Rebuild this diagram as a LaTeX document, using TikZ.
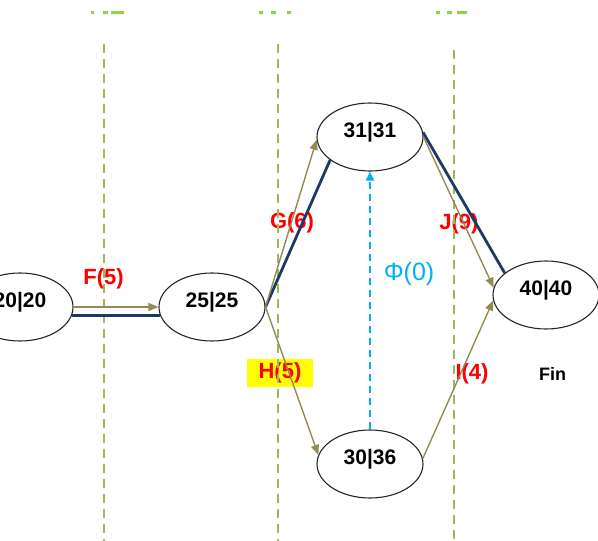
\documentclass[tikz,border=0pt]{standalone}
\usepackage{fontspec}
\setmainfont{Liberation Sans}
\usetikzlibrary{shapes.geometric,arrows.meta}

\definecolor{actolive}{RGB}{148,138,84}
\definecolor{critnavy}{RGB}{31,56,100}
\definecolor{guidegreen}{RGB}{155,187,89}
\definecolor{tickgreen}{RGB}{146,208,80}
\definecolor{dummycyan}{RGB}{0,176,240}
\definecolor{hilite}{RGB}{255,255,0}

\tikzset{
  event/.style={ellipse, draw=black!85, line width=1.1pt, fill=white,
    minimum width=106pt, minimum height=68pt, inner sep=0pt,
    font=\fontsize{21}{21}\selectfont\bfseries,
    text height=15pt, text depth=14pt},
  act/.style={draw=actolive, line width=1.4pt,
    -{Triangle[length=10pt,width=8pt]}},
  crit/.style={draw=critnavy, line width=2.8pt},
  dummyact/.style={draw=dummycyan, line width=2.4pt,
    dash pattern=on 7pt off 5pt,
    -{Triangle[length=9pt,width=8pt]}},
  guide/.style={draw=guidegreen, line width=1.6pt,
    dash pattern=on 9pt off 6pt},
  actlbl/.style={text=red, inner sep=0pt,
    font=\fontsize{22}{22}\selectfont\bfseries},
  dummylbl/.style={text=dummycyan, inner sep=0pt,
    font=\fontsize{25}{25}\selectfont},
  finlbl/.style={text=black, inner sep=0pt,
    font=\fontsize{18}{18}\selectfont\bfseries},
}

\begin{document}
\begin{tikzpicture}[x=1pt,y=-1pt]
\useasboundingbox (0,0) rectangle (598,541);
\clip (0,0) rectangle (598,541);

% activity labels (drawn first so the arrows pass over them)
\node[actlbl] (lF) at (103.5,279) {F(5)};
\node[actlbl] (lG) at (292,223) {G(6)};
\node[actlbl, fill=hilite, minimum width=66pt, minimum height=28pt]
  (lH) at (280,373) {H(5)};
\node[actlbl] (lJ) at (459,224) {J(9)};
\node[actlbl] (lI) at (472,374) {I(4)};
\node[dummylbl] (lPhi) at (409,274) {Φ(0)};
\node[finlbl] (lFin) at (552.5,374) {Fin};

% time guide lines
\coordinate (g1t) at (104,44);  \coordinate (g1b) at (104,541);
\coordinate (g2t) at (278,44);  \coordinate (g2b) at (278,541);
\coordinate (g3t) at (454,50);  \coordinate (g3b) at (454,541);
\draw[guide] (g1t) -- (g1b);
\draw[guide] (g2t) -- (g2b);
\draw[guide] (g3t) -- (g3b);

% bottoms of the time captions above the guide lines
\fill[tickgreen] (91,11) rectangle (94,14) (103,11) rectangle (108,14)
  (111,11) rectangle (124,14);
\fill[tickgreen] (259,11) rectangle (263,14) (271,11) rectangle (276,14)
  (287,11) rectangle (291,14);
\fill[tickgreen] (436,11) rectangle (440,14) (447,11) rectangle (452,14)
  (457,11) rectangle (467,14);

% events
\node[event] (e20) at (20,307) {20|20};
\node[event] (e25) at (212,307) {25|25};
\node[event] (e31) at (370,137) {31|31};
\node[event] (e30) at (370,464) {30|36};
\node[event] (e40) at (546,295) {40|40};

% critical path
\draw[crit] (e20.-9) -- (e25.189);
\draw[crit] (e25.east) -- (e31.210);
\draw[crit] (e31.5) -- (e40.152);

% activities
\draw[act] (e20.east) -- (e25.west);
\draw[act] (e25.east) -- (e31.183);
\draw[act] (e25.east) -- (e30.170);
\draw[act] (e31.east) -- (e40.172);
\draw[act] (e30.6) -- (e40.186);

% dummy activity
\draw[dummyact] (e30.north) -- (e31.south);
\end{tikzpicture}
\end{document}
